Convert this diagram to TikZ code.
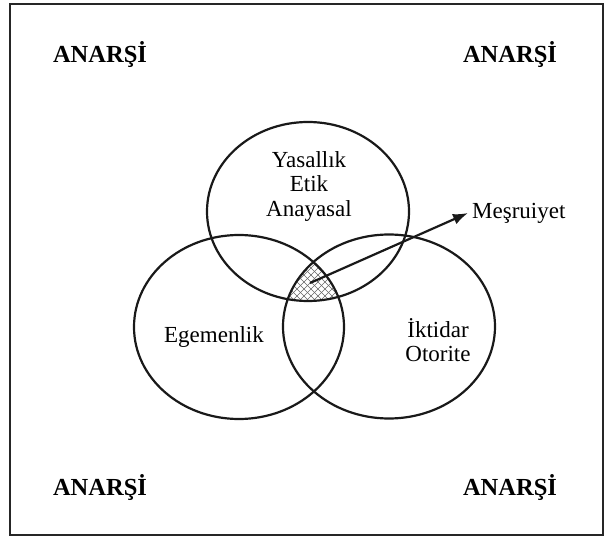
\documentclass[tikz,border=0pt]{standalone}
\usepackage{fontspec}
\setmainfont{Liberation Serif}
\usetikzlibrary{arrows.meta}
\begin{document}
\begin{tikzpicture}[x=1pt,y=-1pt,
  lbl/.style={font=\fontsize{23}{24.5}\selectfont, align=center, inner sep=0pt},
  anar/.style={font=\bfseries\fontsize{24.5}{26}\selectfont, inner sep=0pt},
  ring/.style={line width=2.2pt, draw=black!90},
  hatchln/.style={line width=0.5pt, draw=black!60},
  frame/.style={line width=2.2pt, draw=black!85}]
\useasboundingbox (0,0) rectangle (605,537);
\draw[frame] (10,4) rectangle (603,535);
% intersection hatch
\begin{scope}
  \clip (308,211.5) ellipse [x radius=101, y radius=89.5];
  \clip (239,327) ellipse [x radius=105, y radius=92];
  \clip (389,326.5) ellipse [x radius=106, y radius=92];
  \foreach \k in {-72,-65,...,72} {
    \draw[hatchln] (313+\k-60,275-60) -- (313+\k+60,275+60);
    \draw[hatchln] (313+\k-60,275+60) -- (313+\k+60,275-60);
  }
\end{scope}
% ellipses
\draw[ring] (308,211.5) ellipse [x radius=101, y radius=89.5];
\draw[ring] (239,327) ellipse [x radius=105, y radius=92];
\draw[ring] (389,326.5) ellipse [x radius=106, y radius=92];
% labels
\node[anar] (a1) at (100,55) {ANARŞİ};
\node[anar] (a2) at (510,55) {ANARŞİ};
\node[anar] (a3) at (100,488) {ANARŞİ};
\node[anar] (a4) at (510,488) {ANARŞİ};
\node[lbl] (top) at (309,186.5) {Yasallık\\Etik\\Anayasal};
\node[lbl] (ege) at (214,337) {Egemenlik};
\node[lbl] (ikt) at (438,340) {İktidar\\Otorite};
\node[lbl, anchor=west] (mes) at (472,213) {Meşruiyet};
% arrow
\coordinate (hatch) at (310,283);
\coordinate (tip) at (468,213);
\draw[ring, -{Latex[length=15pt,width=11pt]}] (hatch) -- (tip);
\end{tikzpicture}
\end{document}
